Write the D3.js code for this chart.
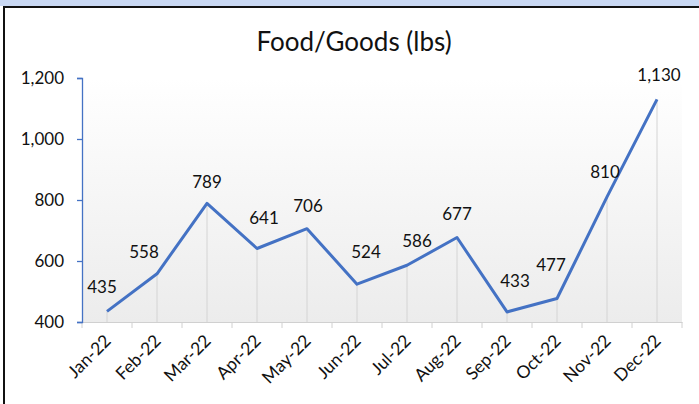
<!DOCTYPE html>
<html><head><meta charset="utf-8">
<script src="https://cdn.jsdelivr.net/npm/d3@7"></script>
<style>body{margin:0;background:#fff;}svg{display:block;}</style>
</head><body>
<svg id="c" width="699" height="404"></svg>
<script>
const categories = ["Jan-22","Feb-22","Mar-22","Apr-22","May-22","Jun-22","Jul-22","Aug-22","Sep-22","Oct-22","Nov-22","Dec-22"];
const values = [435,558,789,641,706,524,586,677,433,477,810,1130];
const yTicks = [400,600,800,1000,1200];
const title = "Food/Goods (lbs)";
// label nudges (Excel-like placement), in px
const labelDx = [-5,-13,0,7,1,9,10,0,8,-6,-2,2];
const labelDy = [-24,-22,-21,-30,-23,-32,-24,-24,-31,-34,-25,-24];

const svg = d3.select("#c");
const font = "Lato, 'Open Sans', sans-serif";
const blue = "#4472c4";

// frame
svg.append("rect").attr("x",0).attr("y",0).attr("width",699).attr("height",6).attr("fill","#c9d8f3");
svg.append("line").attr("x1",3).attr("x2",699).attr("y1",7).attr("y2",7).attr("stroke","#111").attr("stroke-width",2);
svg.append("line").attr("x1",4).attr("x2",4).attr("y1",6).attr("y2",404).attr("stroke","#111").attr("stroke-width",2);

const m = {l:82, r:682, t:78, b:322};
const x = d3.scaleBand().domain(categories).range([m.l,m.r]);
const y = d3.scaleLinear().domain([400,1200]).range([m.b,m.t]);

const defs = svg.append("defs");
const g = defs.append("linearGradient").attr("id","bg").attr("x1",0).attr("x2",0).attr("y1",0).attr("y2",1);
g.append("stop").attr("offset","0%").attr("stop-color","#ffffff");
g.append("stop").attr("offset","100%").attr("stop-color","#ececec");
svg.append("rect").attr("x",m.l).attr("y",m.t).attr("width",m.r-m.l).attr("height",m.b-m.t).attr("fill","url(#bg)");

svg.append("text").attr("x",354).attr("y",51).attr("text-anchor","middle")
  .attr("font-family",font).attr("font-size",26).attr("fill","#111").text(title);

const cx = d => x(d) + x.bandwidth()/2;

// drop lines
svg.append("g").selectAll("line").data(categories).join("line")
  .attr("x1",d=>cx(d)).attr("x2",d=>cx(d))
  .attr("y1",(d,i)=>y(values[i])).attr("y2",m.b)
  .attr("stroke","#d4d4d4").attr("stroke-width",1);

// x axis
const xa = svg.append("g").attr("transform",`translate(0,${m.b})`)
  .call(d3.axisBottom(x).tickSize(0).tickFormat(""));
xa.select(".domain").attr("stroke","#d0d0d0");
const bounds = d3.range(categories.length+1).map(i=>m.l + i*x.step());
svg.append("g").selectAll("line").data(bounds).join("line")
  .attr("x1",d=>d).attr("x2",d=>d).attr("y1",m.b).attr("y2",m.b+6)
  .attr("stroke","#d0d0d0");
svg.append("g").selectAll("text").data(categories).join("text")
  .attr("transform",d=>`translate(${cx(d)+5},${m.b+20}) rotate(-45)`)
  .attr("text-anchor","end").attr("font-family",font).attr("font-size",17.5).attr("fill","#111")
  .text(d=>d);

// y axis
const ya = svg.append("g").attr("transform",`translate(${m.l},0)`)
  .call(d3.axisLeft(y).tickValues(yTicks).tickSize(5).tickPadding(13).tickFormat(d3.format(",")));
ya.select(".domain").attr("stroke",blue).attr("stroke-width",1.3);
ya.selectAll(".tick line").attr("stroke",blue).attr("stroke-width",1.3);
ya.selectAll(".tick text").attr("font-family",font).attr("font-size",17).attr("fill","#111");

// line
const line = d3.line().x((d,i)=>cx(categories[i])).y(d=>y(d));
svg.append("path").datum(values).attr("d",line).attr("fill","none")
  .attr("stroke",blue).attr("stroke-width",3).attr("stroke-linejoin","round");

// labels
svg.append("g").selectAll("text").data(values).join("text")
  .attr("x",(d,i)=>cx(categories[i])+labelDx[i])
  .attr("y",(d,i)=>y(d)+labelDy[i]+6)
  .attr("text-anchor","middle").attr("font-family",font).attr("font-size",17).attr("fill","#111")
  .text(d=>d3.format(",")(d));
</script>
</body></html>
